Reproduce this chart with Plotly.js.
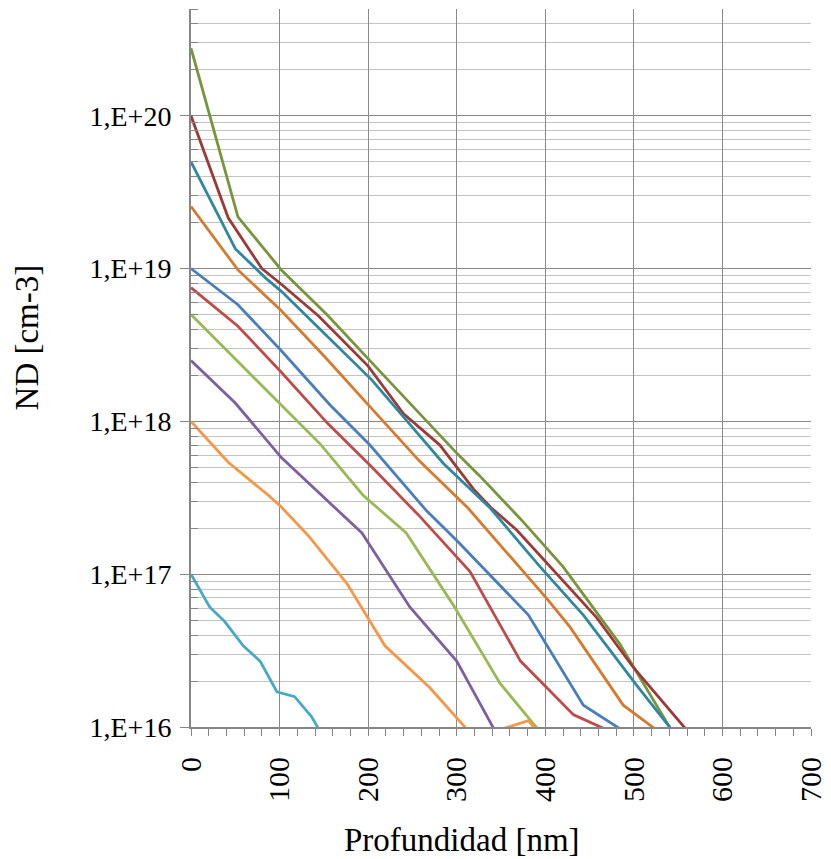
<!DOCTYPE html>
<html>
<head>
<meta charset="utf-8">
<script src="https://cdn.plot.ly/plotly-3.0.1.min.js"></script>
<style>html,body{margin:0;padding:0;background:#fff;}#chart{width:831px;height:859px;}</style>
</head>
<body>
<div id="chart"></div>
<script>
// Depth [nm] and ND [cm-3] for each profile
const s1x = [0, 53, 102, 155, 202, 300, 326, 372, 420, 484, 545];
const s1y = [2.77e20, 2.18e19, 9.8e18, 4.9e18, 2.5e18, 6.2e17, 4.4e17, 2.3e17, 1.12e17, 3.5e16, 9e15];

const s2x = [0, 42, 80, 102, 144, 200, 240, 281, 319, 338, 368, 402, 458, 499, 560];
const s2y = [1e20, 2.15e19, 1.0e19, 7.9e18, 4.9e18, 2.3e18, 1.12e18, 7.0e17, 3.6e17, 2.75e17, 1.94e17, 1.18e17, 5.2e16, 2.47e16, 9.5e15];

const s3x = [0, 50, 84, 102, 144, 204, 243, 285, 338, 394, 443, 503, 550];
const s3y = [5e19, 1.35e19, 8.7e18, 7.1e18, 4.1e18, 1.87e18, 1.02e18, 5.3e17, 2.7e17, 1.12e17, 5.4e16, 1.88e16, 8.5e15];

const s4x = [0, 53, 102, 151, 202, 258, 313, 402, 428, 488, 535];
const s4y = [2.55e19, 9.8e18, 5.3e18, 2.65e18, 1.25e18, 5.5e17, 2.7e17, 6.9e16, 4.5e16, 1.39e16, 8.7e15];

const s5x = [0, 53, 102, 157, 202, 266, 302, 381, 443, 481, 500];
const s5y = [1e19, 5.8e18, 2.9e18, 1.28e18, 7.0e17, 2.6e17, 1.62e17, 5.4e16, 1.39e16, 1.0e16, 8.5e15];

const s6x = [0, 53, 102, 155, 203, 258, 315, 372, 432, 480];
const s6y = [7.5e18, 4.2e18, 2.1e18, 9.6e17, 5.1e17, 2.4e17, 1.04e17, 2.7e16, 1.2e16, 9e15];

const s7x = [0, 100, 146, 194, 243, 296, 349, 405];
const s7y = [5e18, 1.32e18, 7.1e17, 3.3e17, 1.86e17, 6.3e16, 1.93e16, 7.8e15];

const s8x = [0, 50, 102, 193, 247, 300, 350];
const s8y = [2.5e18, 1.32e18, 5.8e17, 1.86e17, 6.1e16, 2.7e16, 8.0e15];

const s9x = [0, 42, 87, 102, 132, 176, 219, 270, 320, 381, 400];
const s9y = [1.0e18, 5.4e17, 3.3e17, 2.75e17, 1.8e17, 8.7e16, 3.4e16, 1.8e16, 8.5e15, 1.1e16, 8e15];

const s10x = [0, 21, 38, 59, 78, 97, 117, 136, 150];
const s10y = [1.0e17, 6.1e16, 4.9e16, 3.4e16, 2.7e16, 1.7e16, 1.58e16, 1.17e16, 8.5e15];

const yTickVals = [1e16, 1e17, 1e18, 1e19, 1e20];
const yTickText = ['1,E+16', '1,E+17', '1,E+18', '1,E+19', '1,E+20'];
const xTickVals = [0, 100, 200, 300, 400, 500, 600, 700];

const seriesX = [s1x, s2x, s3x, s4x, s5x, s6x, s7x, s8x, s9x, s10x];
const seriesY = [s1y, s2y, s3y, s4y, s5y, s6y, s7y, s8y, s9y, s10y];
const colors = ['#77963C', '#9B3A37', '#2F88A0', '#D67A2E', '#4A7EBB', '#BE4B48', '#98B954', '#7D60A0', '#F79646', '#46AAC5'];

const traces = seriesX.map((xs, i) => ({
  x: xs, y: seriesY[i], type: 'scatter', mode: 'lines',
  line: {color: colors[i], width: 2.8}, hoverinfo: 'skip', showlegend: false
}));

// minor log tick positions (2..9 in each decade)
const minorVals = [];
for (let d = 16; d <= 20; d++) for (let m = 2; m <= 9; m++) { const v = m * Math.pow(10, d); if (v <= 5.01e20) minorVals.push(v); }

const font = "'Liberation Serif', 'Times New Roman', serif";
const layout = {
  width: 831, height: 859,
  margin: {l: 191, r: 20, t: 9, b: 132},
  paper_bgcolor: '#ffffff', plot_bgcolor: '#ffffff',
  showlegend: false,
  font: {family: font, color: '#000'},
  xaxis: {
    range: [0, 700], tickmode: 'array', tickvals: xTickVals,
    ticks: 'outside', ticklen: 7, tickcolor: '#868686', tickwidth: 1,
    tickangle: -90, ticklabelstandoff: 9,
    tickfont: {family: font, size: 30, color: '#000'},
    showgrid: true, gridcolor: '#8a8a8a', gridwidth: 1,
    showline: true, linecolor: '#868686', linewidth: 2, zeroline: false,
    minor: {dtick: 20, tick0: 0, ticks: 'outside', ticklen: 7, tickcolor: '#868686', showgrid: false}
  },
  yaxis: {
    type: 'log', range: [16, Math.log10(5e20)],
    tickmode: 'array', tickvals: yTickVals, ticktext: yTickText,
    ticks: 'outside', ticklen: 9, tickcolor: '#868686', tickwidth: 1,
    ticklabelstandoff: 3,
    tickfont: {family: font, size: 28, color: '#000'},
    showgrid: true, gridcolor: '#8a8a8a', gridwidth: 1,
    showline: true, linecolor: '#868686', linewidth: 2, zeroline: false,
    minor: {tickmode: 'array', tickvals: minorVals, ticks: 'inside', ticklen: 7, tickcolor: '#868686',
            showgrid: true, gridcolor: '#c4c4c4', gridwidth: 1}
  },
  annotations: [
    {text: 'ND [cm-3]', xref: 'paper', yref: 'paper', x: -0.263, y: 0.5425, textangle: -90,
     showarrow: false, xanchor: 'center', yanchor: 'middle', font: {family: font, size: 33, color: '#000'}},
    {text: 'Profundidad [nm]', xref: 'paper', yref: 'paper', x: 0.437, y: -0.158,
     showarrow: false, xanchor: 'center', yanchor: 'middle', font: {family: font, size: 33, color: '#000'}}
  ]
};

Plotly.newPlot('chart', traces, layout, {displayModeBar: false, staticPlot: true});
</script>
</body>
</html>
